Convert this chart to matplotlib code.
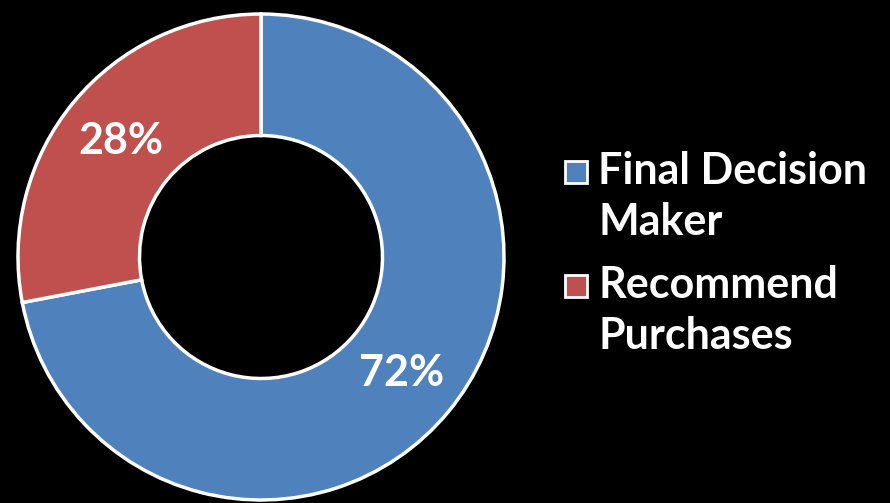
import matplotlib.pyplot as plt
from matplotlib.patches import Rectangle

# Data
labels = ['Final Decision\nMaker', 'Recommend\nPurchases']
shares = [72, 28]
colors = ['#4F81BD', '#C0504D']

FONT = 'Lato'
W, H = 890, 503

fig = plt.figure(figsize=(W / 100, H / 100), dpi=100, facecolor='black')

# donut: center (261, 257) px, radius 243 px
cx, cy, r = 261, 257, 243
ax = fig.add_axes([(cx - r) / W, (H - cy - r) / H, 2 * r / W, 2 * r / H])
ax.set_facecolor('black')
wedges, texts, autotexts = ax.pie(
    shares, colors=colors, startangle=90, counterclock=False,
    radius=1.0, autopct='%d%%', pctdistance=0.75,
    wedgeprops=dict(width=0.5, edgecolor='white', linewidth=2.5),
    textprops=dict(color='white', fontsize=31, fontweight='bold', family=FONT),
)
ax.set_xlim(-1.0, 1.0)
ax.set_ylim(-1.0, 1.0)
ax.axis('off')

# legend drawn by hand so the marker sits on the first line
tops = [159, 273]
for lab, col, top in zip(labels, colors, tops):
    fig.patches.append(Rectangle(
        (565 / W, (H - top - 24) / H), 22 / W, 22 / H,
        transform=fig.transFigure, facecolor=col, edgecolor='white',
        linewidth=2))
    fig.text(598 / W, (H - top + 8) / H, lab, color='white', fontsize=31,
             fontweight='bold', family=FONT, va='top', ha='left',
             linespacing=1.33)

fig.savefig('out.png', dpi=100, facecolor='black')
